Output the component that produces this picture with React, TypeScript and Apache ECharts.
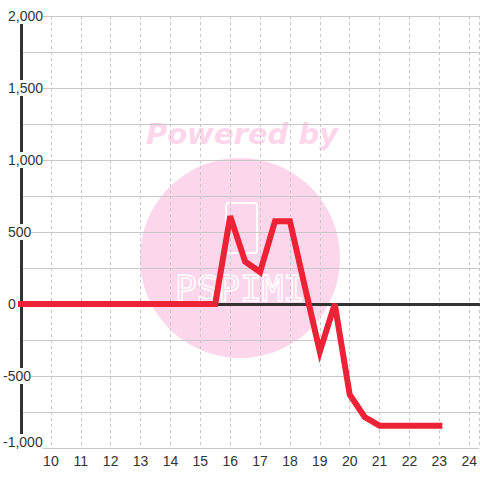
import React, { useEffect, useRef } from "react";
import * as echarts from "echarts";

const xValues = [
  9, 9.5, 10, 10.5, 11, 11.5, 12, 12.5, 13, 13.5, 14, 14.5, 15, 15.5,
  16, 16.5, 17, 17.5, 18, 18.5, 19, 19.5, 20, 20.5, 21, 21.5, 22, 22.5, 23,
];
const yValues = [
  0, 0, 0, 0, 0, 0, 0, 0, 0, 0, 0, 0, 0, 0,
  610, 295, 222, 575, 575, 120, -330, 0, -630, -785, -845, -845, -845, -845, -845,
];
const xMin = 9;
const xMax = 24.333;
const yMin = -1000;
const yMax = 2000;

const fmt = (v: number) => {
  if (Math.round(v) % 500 !== 0) return "";
  const s = Math.abs(v).toString().replace(/\B(?=(\d{3})+(?!\d))/g, ",");
  if (v === yMin) return "{m|-" + s + "}";
  return v < 0 ? "{n|-" + s + "}" : "{p|" + s + "}";
};

export default function App() {
  const ref = useRef<HTMLDivElement>(null);
  useEffect(() => {
    if (!ref.current) return;
    const chart = echarts.init(ref.current, null, { renderer: "svg" });
    const font = "Liberation Sans";
    const base = { color: "#333", fontSize: 14, fontFamily: font, backgroundColor: "#fff" };
    chart.setOption({
      animation: false,
      backgroundColor: "#fff",
      grid: { left: 20, right: 0, top: 16, bottom: 32, containLabel: false },
      graphic: [
        {
          type: "circle",
          z: -10,
          shape: { cx: 240, cy: 258, r: 100 },
          style: { fill: "#fcd6eb" },
        },
        {
          type: "text",
          z: -10,
          x: 242,
          y: 134,
          style: {
            text: "Powered by",
            fill: "#fdd6eb",
            font: "italic bold 29px 'DejaVu Sans'",
            align: "center",
            verticalAlign: "middle",
          },
        },
        {
          type: "rect",
          z: -10,
          shape: { x: 226, y: 203, width: 31, height: 50, r: 3 },
          style: { fill: "none", stroke: "#ffffff", lineWidth: 2 },
        },
        {
          type: "text",
          z: -10,
          x: 240,
          y: 288,
          style: {
            text: "PSPIMI",
            fill: "none",
            stroke: "#ffffff",
            lineWidth: 1.5,
            font: "36px 'DejaVu Sans Mono'",
            align: "center",
            verticalAlign: "middle",
          },
        },
      ],
      xAxis: [
        {
          type: "value",
          min: xMin,
          max: xMax,
          interval: 1,
          axisLine: { show: false, onZero: false },
          axisTick: { show: false },
          axisLabel: {
            margin: 6,
            color: "#333",
            fontSize: 14,
            fontFamily: font,
            showMinLabel: false,
            showMaxLabel: false,
          },
          splitLine: {
            show: true,
            lineStyle: { color: "#c8c8c8", type: [3, 3], width: 1 },
          },
        },
        {
          type: "value",
          position: "top",
          min: xMin,
          max: xMax,
          interval: 1,
          axisLine: { show: true, onZero: true, lineStyle: { color: "#333", width: 3 } },
          axisTick: { show: false },
          axisLabel: { show: false },
          splitLine: { show: false },
        },
      ],
      yAxis: {
        type: "value",
        min: yMin,
        max: yMax,
        interval: 250,
        axisLine: { show: true, lineStyle: { color: "#333", width: 3 } },
        axisTick: { show: false },
        axisLabel: {
          align: "left",
          margin: 18,
          formatter: fmt,
          rich: {
            n: { ...base, padding: [1, 0, 1, 0] },
            m: { ...base, padding: [1, 0, 13, 0] },
            p: { ...base, padding: [1, 0, 1, 5] },
          },
        },
        splitLine: { show: true, lineStyle: { color: "#c8c8c8", width: 1 } },
      },
      series: [
        {
          type: "line",
          xAxisIndex: 0,
          data: xValues.map((x, i) => [x, yValues[i]]),
          symbol: "none",
          lineStyle: { color: "#ee2236", width: 6, join: "miter", cap: "square" },
          z: 5,
        },
      ],
    });
    return () => chart.dispose();
  }, []);
  return <div ref={ref} style={{ width: 480, height: 480, position: "absolute", left: 0, top: 0 }} />;
}
